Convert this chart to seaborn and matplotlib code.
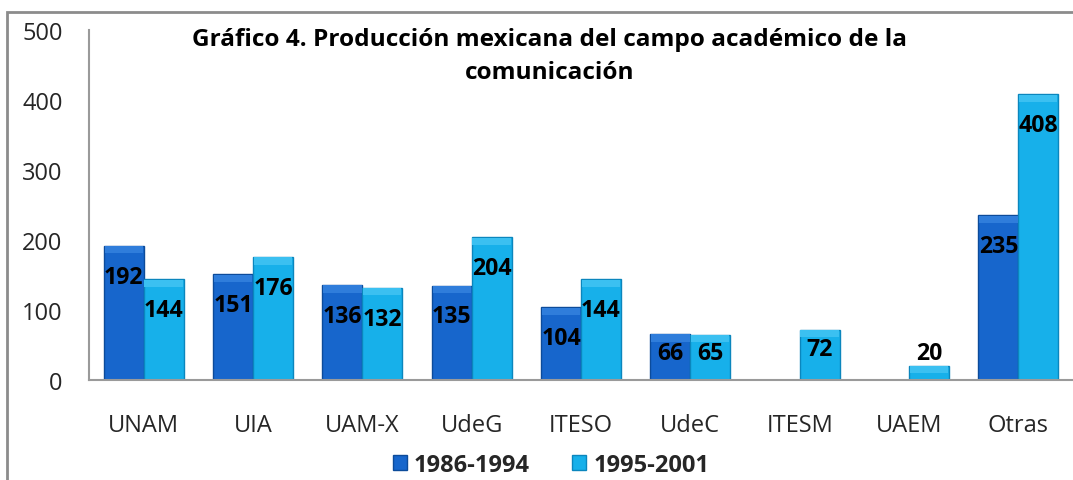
import matplotlib
matplotlib.use("Agg")
import matplotlib.pyplot as plt
import seaborn as sns
import pandas as pd
from matplotlib.patches import Rectangle

categories = ["UNAM", "UIA", "UAM-X", "UdeG", "ITESO", "UdeC", "ITESM", "UAEM", "Otras"]
series_names = ["1986-1994", "1995-2001"]
values_1986_1994 = [192, 151, 136, 135, 104, 66, None, None, 235]
values_1995_2001 = [144, 176, 132, 204, 144, 65, 72, 20, 408]
y_ticks = [0, 100, 200, 300, 400, 500]
title = "Gráfico 4. Producción mexicana del campo académico de la\ncomunicación"

rows = []
for c, a, b in zip(categories, values_1986_1994, values_1995_2001):
    rows.append({"cat": c, "serie": series_names[0], "val": a if a is not None else 0})
    rows.append({"cat": c, "serie": series_names[1], "val": b})
df = pd.DataFrame(rows)

sns.set_theme(style="white")
plt.rcParams["font.family"] = ["Open Sans", "DejaVu Sans"]

W, H = 1073, 481
fig = plt.figure(figsize=(W / 100, H / 100), dpi=100)
ax = fig.add_axes([89 / W, 1 - 381 / H, (W - 89) / W, 350 / H])

dark = "#1766cc"
light = "#17b0ea"
sns.barplot(data=df, x="cat", y="val", hue="serie", order=categories,
            hue_order=series_names, palette=[dark, light], width=0.73,
            saturation=1, ax=ax, legend=False, edgecolor="none")

edge_cols = ["#0c4b9a", "#0b86bd"]
top_cols = ["#2f7ddb", "#3bc0f1"]
vals_all = [values_1986_1994, values_1995_2001]
for cont, vals, ec, tc in zip(ax.containers, vals_all, edge_cols, top_cols):
    for p, v in zip(cont.patches, vals):
        if v is None:
            p.set_visible(False)
            continue
        p.set_edgecolor(ec)
        p.set_linewidth(1.0)
        # lighter bevel band along the top of the bar
        band = min(11.0, v * 0.5)
        w = p.get_width()
        ax.add_patch(Rectangle((p.get_x() + w * 0.02, v - band), w * 0.96, band * 0.95,
                               facecolor=tc, edgecolor="none", zorder=p.get_zorder() + 0.1))
        xc = p.get_x() + w / 2
        if v < 40:
            off = 13
        elif v < 100:
            off = -19
        else:
            off = -31
        ax.annotate(f"{v}", (xc, v), xytext=(0, off), textcoords="offset pixels",
                    ha="center", va="center", fontsize=16.7, fontweight="bold",
                    color="black", zorder=5)

ax.set_xlim(-0.5, 8.5)
ax.set_ylim(0, 500)
ax.set_yticks(y_ticks)
ax.set_yticklabels([str(t) for t in y_ticks])
ax.set_xlabel("")
ax.set_ylabel("")
ax.tick_params(axis="y", length=0, pad=19, labelsize=17, labelcolor="#262626")
ax.tick_params(axis="x", length=0, pad=24, labelsize=17, labelcolor="#262626")
for s in ["top", "right"]:
    ax.spines[s].set_visible(False)
for s in ["left", "bottom"]:
    ax.spines[s].set_color("#9a9a9a")
    ax.spines[s].set_linewidth(1.5)
ax.grid(False)

fig.text(550 / W, 1 - 57 / H, title, ha="center", va="center", fontsize=17.6,
         fontweight="bold", color="black", linespacing=1.5)

handles = [Rectangle((0, 0), 1, 1, facecolor=dark, edgecolor="#0c4b9a"),
           Rectangle((0, 0), 1, 1, facecolor=light, edgecolor="#0b86bd")]
fig.legend(handles, series_names, loc="center", bbox_to_anchor=(551 / W, 1 - 466 / H),
           ncol=2, frameon=False, prop={"weight": "bold", "size": 17},
           handlelength=0.6, handleheight=0.6, handletextpad=0.3, columnspacing=1.8)

frame = Rectangle((7 / W, -0.1), 1.2, 1 - 13 / H + 0.1, transform=fig.transFigure,
                  fill=False, edgecolor="#8c8c8c", linewidth=2, clip_on=False)
fig.patches.append(frame)

fig.savefig("out.png", dpi=100)
